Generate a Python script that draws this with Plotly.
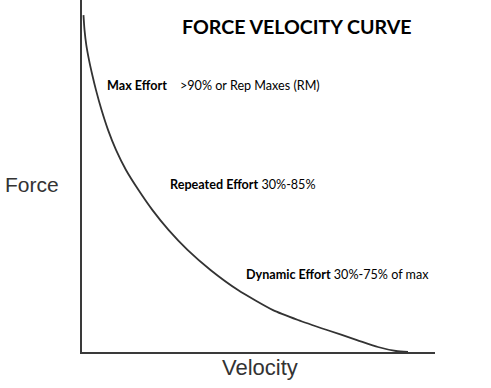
import plotly.graph_objects as go

# Force-velocity curve (velocity and force in % of axis)
velocity = [0.42, 0.71, 1.22, 1.98, 2.92, 3.97, 5.52, 7.37, 9.63, 12.46, 16.01, 19.97,
            24.50, 29.89, 36.40, 44.19, 54.11, 61.19, 69.41, 77.90, 83.85, 88.95, 92.35]
force = [95.7, 91.5, 87.2, 83.0, 78.7, 74.4, 68.8, 63.1, 57.4, 51.7, 46.0, 40.3,
         34.7, 29.0, 23.3, 17.6, 11.9, 9.1, 6.25, 3.4, 1.42, 0.28, 0.0]

title_text = "FORCE VELOCITY CURVE"
x_label = "Velocity"
y_label = "Force"
zone_names = ["Max Effort", "Repeated Effort", "Dynamic Effort"]
zone_ranges = [">90% or Rep Maxes (RM)", "30%-85%", "30%-75% of max"]

fig = go.Figure()
fig.add_trace(go.Scatter(x=velocity, y=force, mode="lines",
                         line=dict(color="#333333", width=1.8, shape="spline", smoothing=0.6),
                         hoverinfo="skip", showlegend=False))

W, H = 491, 388
ml, mr, mt, mb = 82, 56, 0, 36
pw, ph = W - ml - mr, H - mt - mb

def px(x):
    return (x - ml) / pw

def py(y):
    return (H - mb - y) / ph

annotations = []
annotations.append(dict(text="<b>" + title_text + "</b>", x=px(297), y=py(27), xref="paper", yref="paper",
                        showarrow=False, font=dict(family="Lato", size=19.6, color="#000000"),
                        xanchor="center", yanchor="middle"))
annotations.append(dict(text=y_label, x=px(3), y=py(184), xref="paper", yref="paper",
                        showarrow=False, font=dict(family="Liberation Sans", size=21, color="#333333"),
                        xanchor="left", yanchor="middle"))
annotations.append(dict(text=x_label, x=px(260), y=py(367), xref="paper", yref="paper",
                        showarrow=False, font=dict(family="Liberation Sans", size=22, color="#333333"),
                        xanchor="center", yanchor="middle"))
label_font = dict(family="Lato", size=12.6, color="#000000")
annotations.append(dict(text="<b>" + zone_names[0] + "</b>", x=px(105), y=py(86), xref="paper", yref="paper",
                        showarrow=False, font=label_font, xanchor="left", yanchor="middle"))
annotations.append(dict(text=zone_ranges[0], x=px(178), y=py(86), xref="paper", yref="paper",
                        showarrow=False, font=label_font, xanchor="left", yanchor="middle"))
annotations.append(dict(text="<b>" + zone_names[1] + "</b> " + zone_ranges[1], x=px(168), y=py(184),
                        xref="paper", yref="paper", showarrow=False, font=label_font,
                        xanchor="left", yanchor="middle"))
annotations.append(dict(text="<b>" + zone_names[2] + "</b> " + zone_ranges[2], x=px(244), y=py(274),
                        xref="paper", yref="paper", showarrow=False, font=label_font,
                        xanchor="left", yanchor="middle"))

fig.update_layout(
    width=W, height=H,
    margin=dict(l=ml, r=mr, t=mt, b=mb),
    paper_bgcolor="white", plot_bgcolor="white",
    xaxis=dict(range=[0, 100], showline=True, linecolor="#3a3a3a", linewidth=2,
               showgrid=False, zeroline=False, showticklabels=False, ticks=""),
    yaxis=dict(range=[0, 100], showline=True, linecolor="#3a3a3a", linewidth=2,
               showgrid=False, zeroline=False, showticklabels=False, ticks=""),
    annotations=annotations,
)

fig.write_html("out.html", config={"displayModeBar": False},
               post_script="document.body.style.margin='0';")
